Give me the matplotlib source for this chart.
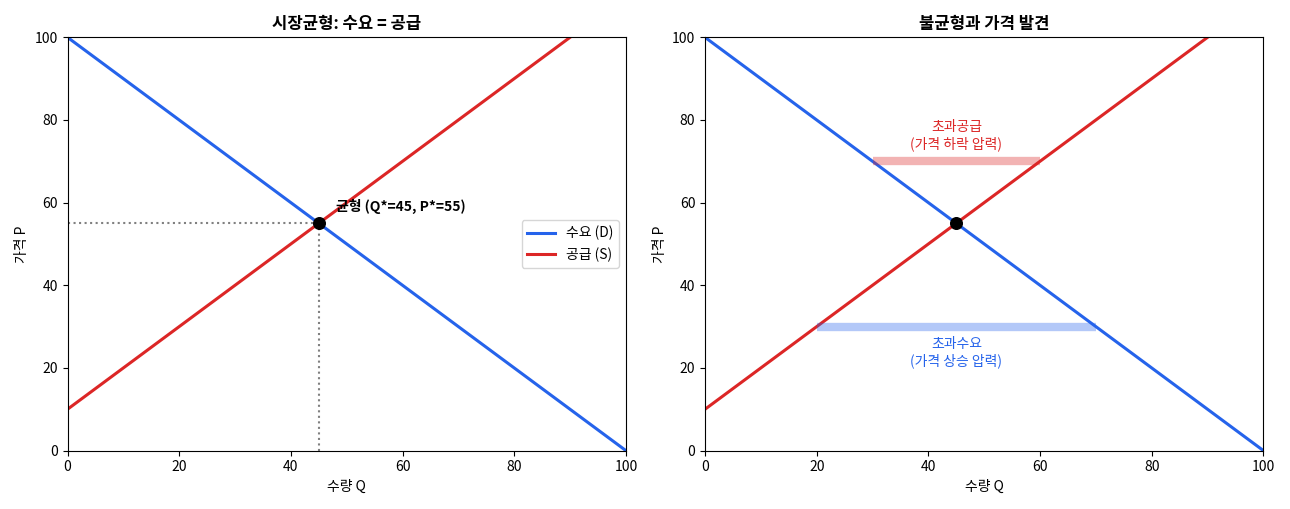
import matplotlib
matplotlib.use("Agg")
import matplotlib.pyplot as plt
import numpy as np

plt.rcParams['font.family'] = ['Noto Sans CJK KR', 'DejaVu Sans']
plt.rcParams['axes.unicode_minus'] = False

q = np.array([0, 100])
demand_p = 100 - q
supply_q = np.array([0, 90])
supply_p = 10 + supply_q
eq_q, eq_p = 45, 55
high_p, high_range = 70, (30, 60)
low_p, low_range = 30, (20, 70)

blue = '#2563eb'
red = '#dc2626'

fig, (ax1, ax2) = plt.subplots(1, 2, figsize=(12.9, 5.09), dpi=100)

ax1.plot(q, demand_p, color=blue, lw=2.2, label='수요 (D)')
ax1.plot(supply_q, supply_p, color=red, lw=2.2, label='공급 (S)')
ax1.plot([0, eq_q], [eq_p, eq_p], ls=':', color='gray', lw=1.5)
ax1.plot([eq_q, eq_q], [0, eq_p], ls=':', color='gray', lw=1.5)
ax1.scatter([eq_q], [eq_p], s=70, color='black', zorder=5)
ax1.text(eq_q + 3, eq_p + 3, '균형 (Q*=45, P*=55)', fontsize=10, fontweight='bold')
ax1.set_title('시장균형: 수요 = 공급', fontsize=12, fontweight='bold')
ax1.legend(loc='center right')

ax2.plot(q, demand_p, color=blue, lw=2.2)
ax2.plot(supply_q, supply_p, color=red, lw=2.2)
ax2.plot(high_range, [high_p, high_p], color=red, lw=6, alpha=0.35, solid_capstyle='butt')
ax2.plot(low_range, [low_p, low_p], color=blue, lw=6, alpha=0.35, solid_capstyle='butt')
ax2.text(45, high_p + 2.5, '초과공급\n(가격 하락 압력)', color=red, ha='center', va='bottom', fontsize=10)
ax2.text(45, low_p - 2.5, '초과수요\n(가격 상승 압력)', color=blue, ha='center', va='top', fontsize=10)
ax2.scatter([eq_q], [eq_p], s=70, color='black', zorder=5)
ax2.set_title('불균형과 가격 발견', fontsize=12, fontweight='bold')

for ax in (ax1, ax2):
    ax.set_xlim(0, 100)
    ax.set_ylim(0, 100)
    ax.set_xlabel('수량 Q')
    ax.set_ylabel('가격 P')

fig.tight_layout()
fig.savefig('out.png')
